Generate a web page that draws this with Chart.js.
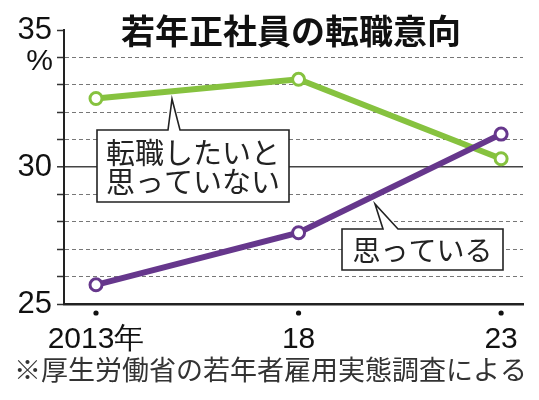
<!DOCTYPE html>
<html>
<head>
<meta charset="utf-8">
<script src="https://cdn.jsdelivr.net/npm/chart.js@4"></script>
<style>
  html, body { margin: 0; padding: 0; background: #fff; }
  #wrap { width: 539px; height: 400px; }
</style>
</head>
<body>
<div id="wrap"><canvas id="myChart" width="539" height="400"></canvas></div>
<script>
var years = [2013, 2018, 2023];
var xTickLabels = ["2013年", "18", "23"];
var notWanting = [32.5, 33.2, 30.3];   // 転職したいと思っていない
var wanting = [25.7, 27.6, 31.2];      // 思っている
var yTickLabels = [25, 30, 35];

var green = "#86c23f";
var purple = "#66378c";
var jpFont = "'Noto Sans CJK JP', 'Noto Sans', sans-serif";
var numFont = "'Liberation Sans', Arial, sans-serif";

function toPoints(vals) {
  return years.map(function (y, i) { return { x: y, y: vals[i] }; });
}

// callout boxes (pixel layout, text only)
var callouts = [
  { lines: ["転職したいと", "思っていない"], box: [97, 130, 289, 202], base: [168, 180], tip: [172, 99], size: 29 },
  { lines: ["思っている"], box: [342, 229, 503, 270], base: [383, 398], tip: [375, 204], size: 28 }
];

var decor = {
  id: "decor",
  afterDatasetsDraw: function (chart) {
    var ctx = chart.ctx;
    var xs = chart.scales.x;
    var area = chart.chartArea;
    ctx.save();

    // title
    ctx.fillStyle = "#111";
    ctx.font = "bold 34px " + jpFont;
    ctx.textAlign = "center";
    ctx.textBaseline = "middle";
    ctx.fillText("若年正社員の転職意向", 291, 31);

    // unit
    ctx.font = "30px " + numFont;
    ctx.textAlign = "right";
    ctx.fillText("%", 53, 62);

    // dots under x ticks
    ctx.fillStyle = "#111";
    years.forEach(function (y) {
      ctx.beginPath();
      ctx.arc(xs.getPixelForValue(y), area.bottom + 9, 2.6, 0, Math.PI * 2);
      ctx.fill();
    });

    // callouts
    callouts.forEach(function (c) {
      var b = c.box;
      ctx.beginPath();
      ctx.moveTo(b[0], b[1]);
      ctx.lineTo(c.base[0], b[1]);
      ctx.lineTo(c.tip[0], c.tip[1]);
      ctx.lineTo(c.base[1], b[1]);
      ctx.lineTo(b[2], b[1]);
      ctx.lineTo(b[2], b[3]);
      ctx.lineTo(b[0], b[3]);
      ctx.closePath();
      ctx.fillStyle = "#fff";
      ctx.fill();
      ctx.strokeStyle = "#222";
      ctx.lineWidth = 1.6;
      ctx.stroke();
      ctx.fillStyle = "#222";
      ctx.font = c.size + "px " + jpFont;
      ctx.textAlign = "center";
      ctx.textBaseline = "middle";
      var cx = (b[0] + b[2]) / 2;
      var h = (b[3] - b[1]);
      var lh = c.size;
      var start = b[1] + h / 2 - (c.lines.length - 1) * lh / 2;
      c.lines.forEach(function (t, i) {
        ctx.fillText(t, cx, start + i * lh + 1);
      });
    });

    // footnote
    ctx.fillStyle = "#333";
    ctx.font = "27px " + jpFont;
    ctx.textAlign = "left";
    ctx.textBaseline = "middle";
    ctx.fillText("※厚生労働省の若年者雇用実態調査による", 14, 370);
    ctx.restore();
  }
};

new Chart("myChart", {
  type: "line",
  data: {
    datasets: [
      {
        label: "思っている",
        data: toPoints(wanting),
        borderColor: purple,
        backgroundColor: "#fff",
        borderWidth: 6,
        pointRadius: 6,
        pointBorderWidth: 3,
        pointBackgroundColor: "#fff",
        pointBorderColor: purple,
      },
      {
        label: "転職したいと思っていない",
        data: toPoints(notWanting),
        borderColor: green,
        backgroundColor: "#fff",
        borderWidth: 6,
        pointRadius: 6,
        pointBorderWidth: 3,
        pointBackgroundColor: "#fff",
        pointBorderColor: green,
      },
    ],
  },
  options: {
    responsive: false,
    animation: false,
    events: [],
    layout: { padding: { top: 30, right: 16, left: 0, bottom: 0 } },
    plugins: {
      legend: { display: false },
      title: { display: false },
      tooltip: { enabled: false },
    },
    scales: {
      x: {
        type: "linear",
        min: 2012.21,
        max: 2023.54,
        afterBuildTicks: function (scale) {
          scale.ticks = years.map(function (y) { return { value: y }; });
        },
        afterFit: function (scale) { scale.height = 96; },
        ticks: {
          autoSkip: false,
          maxRotation: 0,
          padding: 10,
          color: "#111",
          font: { family: numFont, size: 30 },
          callback: function (v, i) { return xTickLabels[i]; },
        },
        grid: { display: false },
        border: { display: true, color: "#222", width: 2.5 },
      },
      y: {
        min: 25,
        max: 35,
        afterFit: function (scale) { scale.width = 64; },
        ticks: {
          stepSize: 1,
          autoSkip: false,
          padding: 5,
          color: "#111",
          font: { family: numFont, size: 31 },
          callback: function (v) { return yTickLabels.indexOf(v) >= 0 ? String(v) : ""; },
        },
        grid: {
          color: function (c) {
            var v = c.tick ? c.tick.value : 0;
            if (v === 25 || v === 35) return "rgba(0,0,0,0)";
            return v === 30 ? "#444" : "#777";
          },
          lineWidth: function (c) { return c.tick && c.tick.value === 30 ? 1.6 : 1; },
          tickColor: "#333",
          tickLength: 7,
          tickWidth: 1.5,
        },
        border: {
          display: true,
          color: "#222",
          width: 2,
          dash: function (c) { return c.tick && c.tick.value === 30 ? [] : [4, 3]; },
        },
      },
    },
  },
  plugins: [decor],
});
</script>
</body>
</html>
